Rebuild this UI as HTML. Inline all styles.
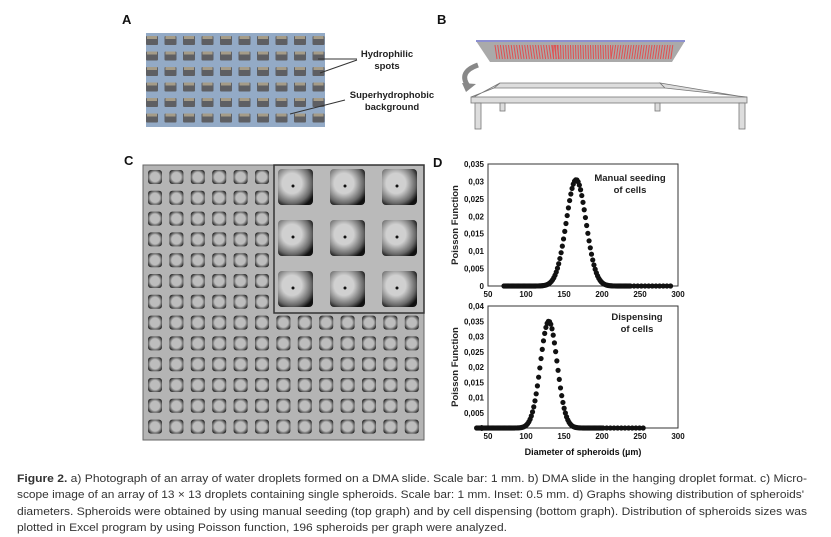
<!DOCTYPE html>
<html><head><meta charset="utf-8"><style>
body{margin:0;background:#fff;width:831px;height:537px;overflow:hidden;font-family:"Liberation Sans",sans-serif}
</style></head><body>
<svg id="s" width="831" height="537" style="position:absolute;left:0;top:0" font-family="Liberation Sans, sans-serif">
<defs>
<radialGradient id="sq" cx="0.5" cy="0.5" r="0.6"><stop offset="0.55" stop-color="#bdbdbd"/><stop offset="0.85" stop-color="#555"/><stop offset="1" stop-color="#222"/></radialGradient>
<radialGradient id="bq" cx="0.4" cy="0.4" r="0.7"><stop offset="0.4" stop-color="#d0d0d0"/><stop offset="0.8" stop-color="#666"/><stop offset="1" stop-color="#111"/></radialGradient>
</defs>
<g font-weight="bold" font-size="13" fill="#111"><text x="122" y="24">A</text><text x="437" y="24">B</text><text x="124" y="165">C</text><text x="433" y="167">D</text></g>
<rect x="146" y="33" width="179" height="94" fill="#93aac6"/>
<g id="agrid"></g>
<g font-weight="bold" font-size="9.5" fill="#222" text-anchor="middle">
<text x="387" y="57">Hydrophilic</text><text x="387" y="69">spots</text>
<text x="392" y="98">Superhydrophobic</text><text x="392" y="110">background</text></g>
<g stroke="#333" stroke-width="1"><line x1="357" y1="59" x2="318" y2="59"/><line x1="357" y1="60" x2="320" y2="73"/><line x1="345" y1="100" x2="290" y2="114"/></g>
<polygon points="476,41 685,41 672,62 490,62" fill="#aaa"/>
<line x1="476" y1="41" x2="685" y2="41" stroke="#8c8fd0" stroke-width="2"/>
<g id="bstripes" stroke="#e05050" stroke-width="1"></g>
<path d="M478,65 Q458,72 468,86" fill="none" stroke="#888" stroke-width="5"/>
<polygon points="462,83 476,84 466,92" fill="#888"/>
<g fill="#ddd" stroke="#777" stroke-width="0.8">
<polygon points="500,83 660,83 665,88 494,88"/>
<rect x="471" y="97" width="276" height="6"/>
<polygon points="494,88 500,83 474,97 471,97"/>
<polygon points="665,88 660,83 744,97 747,97"/>
<rect x="475" y="103" width="6" height="26"/><rect x="739" y="103" width="6" height="26"/>
<rect x="500" y="103" width="5" height="8"/><rect x="655" y="103" width="5" height="8"/>
</g>
<rect x="143" y="165" width="281" height="275" fill="#b4b4b4" stroke="#666"/>
<g id="cgrid"></g>
<rect x="274" y="165" width="150" height="148" fill="#bababa" stroke="#333" stroke-width="1.5"/>
<g id="cinset"></g>
<g id="d" font-weight="bold" font-size="8" fill="#111"></g>
<text x="583" y="455" text-anchor="middle" font-weight="bold" font-size="9" fill="#111">Diameter of spheroids (µm)</text>
<g font-weight="bold" font-size="9.5" fill="#222" text-anchor="middle">
<text x="630" y="181">Manual seeding</text><text x="630" y="193">of cells</text>
<text x="637" y="320">Dispensing</text><text x="637" y="332">of cells</text></g>
<g font-weight="bold" font-size="9.5" fill="#222" text-anchor="middle">
<text transform="translate(458,225) rotate(-90)">Poisson Function</text>
<text transform="translate(458,367) rotate(-90)">Poisson Function</text></g>
<g font-size="11" fill="#333" lengthAdjust="spacingAndGlyphs">
<text x="17" y="482" textLength="790" lengthAdjust="spacingAndGlyphs"><tspan font-weight="bold">Figure 2.</tspan> a) Photograph of an array of water droplets formed on a DMA slide. Scale bar: 1 mm. b) DMA slide in the hanging droplet format. c) Micro-</text>
<text x="17" y="498" textLength="787" lengthAdjust="spacingAndGlyphs">scope image of an array of 13 × 13 droplets containing single spheroids. Scale bar: 1 mm. Inset: 0.5 mm. d) Graphs showing distribution of spheroids' </text>
<text x="17" y="515" textLength="790" lengthAdjust="spacingAndGlyphs">diameters. Spheroids were obtained by using manual seeding (top graph) and by cell dispensing (bottom graph). Distribution of spheroids sizes was</text>
<text x="17" y="531" textLength="490" lengthAdjust="spacingAndGlyphs">plotted in Excel program by using Poisson function, 196 spheroids per graph were analyzed.</text>
</g>
</svg>
<script>
const NS="http://www.w3.org/2000/svg";
function el(p,t,a,txt){const e=document.createElementNS(NS,t);for(const k in a)e.setAttribute(k,a[k]);if(txt!=null)e.textContent=txt;document.getElementById(p).appendChild(e);return e;}
for(let r=0;r<6;r++)for(let c=0;c<10;c++){el("agrid","rect",{x:146+c*18.5,y:36+r*15.5,width:12,height:9,fill:"#5e5f63",rx:1});el("agrid","rect",{x:147+c*18.5,y:36+r*15.5,width:10,height:3,fill:"#a59c88"});}
for(let i=0;i<24;i++){el("bstripes","line",{x1:495+i*2.7,y1:45,x2:497+i*2.7,y2:59});el("bstripes","line",{x1:553+i*2.5,y1:45,x2:553.5+i*2.5,y2:59});el("bstripes","line",{x1:613+i*2.6,y1:45,x2:611+i*2.6,y2:59});}
for(let r=0;r<13;r++)for(let c=0;c<13;c++){if(c>=6&&r<7)continue;el("cgrid","rect",{x:148+c*21.4,y:170+r*20.8,width:14,height:14,rx:3,fill:"url(#sq)"});}
for(let r=0;r<3;r++)for(let c=0;c<3;c++){el("cinset","rect",{x:278+c*52,y:169+r*51,width:35,height:36,rx:4,fill:"url(#bq)"});el("cinset","circle",{cx:293+c*52,cy:186+r*51,r:1.5,fill:"#111"});}
function graph(y0,ymax,ticks,mu,sg,pk){
 const x=d=>488+(d-50)*190/250, y=v=>y0-v/ymax*122;
 el("d","rect",{x:488,y:y0-122,width:190,height:122,fill:"none",stroke:"#333","stroke-width":1});
 ticks.forEach(t=>{el("d","text",{x:484,y:y(t)+3,"text-anchor":"end"},String(t).replace(".",","));});
 [50,100,150,200,250,300].forEach(t=>el("d","text",{x:x(t),y:y0+11,"text-anchor":"middle"},t));
 let i=0;
 for(let d=mu-95;d<=mu+125;d+=1.6){i++;const v=pk*Math.exp(-(d-mu)*(d-mu)/(2*sg*sg));if(d>mu+70&&i%3!=0)continue;el("d","circle",{cx:x(d),cy:y(v),r:2.6,fill:"#111"});}
}
graph(286,0.035,[0,0.005,0.01,0.015,0.02,0.025,0.03,0.035],166,13,0.0305);
graph(428,0.04,[0,0.005,0.01,0.015,0.02,0.025,0.03,0.035,0.04],130,11,0.035);
</script>
</body></html>
